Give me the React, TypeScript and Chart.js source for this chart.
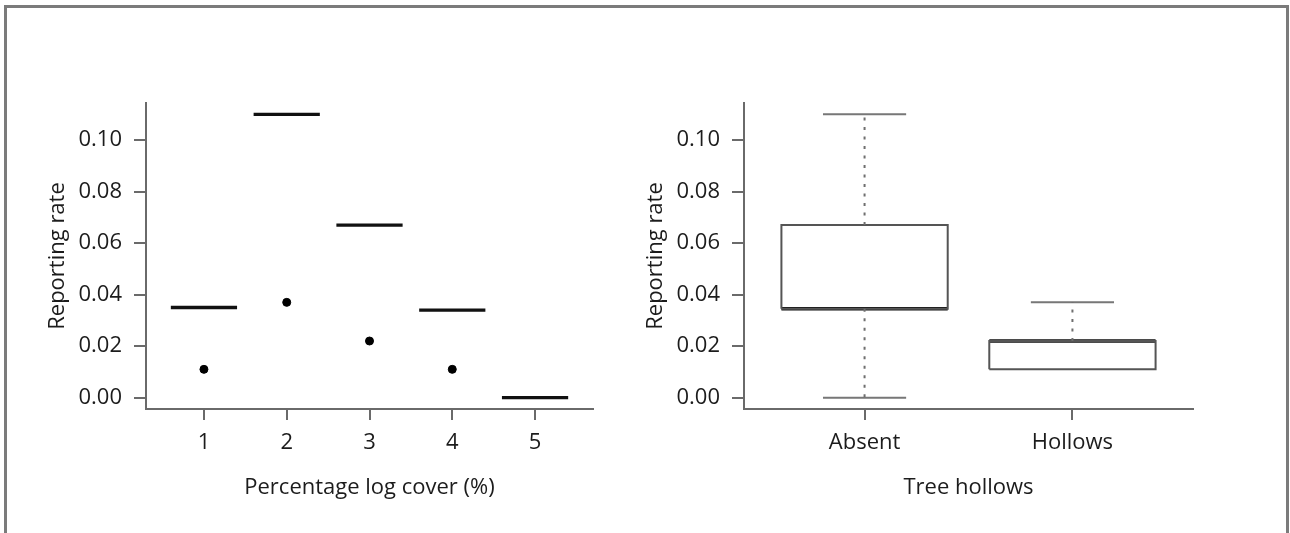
import React, { useEffect, useRef } from 'react';
import { Chart, registerables } from 'chart.js';

Chart.register(...registerables);

// ---- Data ----
const coverCategories = ['1', '2', '3', '4', '5'];
const coverMedians = [0.035, 0.11, 0.067, 0.034, 0.0];
const coverOutliers: (number | null)[] = [0.011, 0.037, 0.022, 0.011, null];

const hollowCategories = ['Absent', 'Hollows'];
const hollowMin = [0.0, 0.011];
const hollowQ1 = [0.0345, 0.011];
const hollowMedian = [0.0345, 0.022];
const hollowQ3 = [0.067, 0.022];
const hollowMax = [0.11, 0.037];

const yTicks = [0, 0.02, 0.04, 0.06, 0.08, 0.1];
const yTitle = 'Reporting rate';
const coverTitle = 'Percentage log cover (%)';
const hollowTitle = 'Tree hollows';

// ---- Style constants ----
const FONT = '"Open Sans", "DejaVu Sans", sans-serif';
const FS = 22;
const TEXT = '#1c1c1c';
const AXIS = '#6a6a6a';
const BOXW = 0.8; // box width in category units
const CAPW = 0.4; // staple width in category units
const Y_MIN = -0.0044;
const Y_MAX = 0.1144;

type P = { x: number; y: number | null };

function segs(pairs: [number, number, number, number][]): P[] {
  const out: P[] = [];
  pairs.forEach(([x1, y1, x2, y2]) => {
    out.push({ x: x1, y: y1 }, { x: x2, y: y2 }, { x: x2, y: null });
  });
  return out;
}

function baseOptions(nCat: number, labels: string[], xTitle: string, padRight: number) {
  const ext = nCat * 0.04;
  return {
    animation: false as const,
    responsive: false,
    maintainAspectRatio: false,
    events: [],
    layout: { padding: { left: 0, right: padRight, top: 103, bottom: 0 } },
    plugins: { legend: { display: false }, tooltip: { enabled: false } },
    scales: {
      x: {
        type: 'linear' as const,
        min: 0.5 - ext,
        max: nCat + 0.5 + ext,
        afterBuildTicks: (s: any) => {
          s.ticks = labels.map((_, i) => ({ value: i + 1 }));
        },
        afterFit: (s: any) => {
          s.height = 124;
        },
        ticks: {
          autoSkip: false,
          maxRotation: 0,
          padding: 10,
          color: TEXT,
          font: { family: FONT, size: FS },
          callback: (v: any) => labels[Math.round(Number(v)) - 1] ?? '',
        },
        grid: { drawOnChartArea: false, drawTicks: true, tickLength: 11, color: AXIS, lineWidth: 2 },
        border: { display: true, color: AXIS, width: 2 },
        title: {
          display: true,
          text: xTitle,
          color: TEXT,
          font: { family: FONT, size: FS },
          padding: { top: 0, bottom: 32 },
        },
      },
      y: {
        type: 'linear' as const,
        min: Y_MIN,
        max: Y_MAX,
        afterBuildTicks: (s: any) => {
          s.ticks = yTicks.map((v) => ({ value: v }));
        },
        afterFit: (s: any) => {
          s.width = 146;
        },
        ticks: {
          padding: 12,
          color: TEXT,
          font: { family: FONT, size: FS },
          callback: (v: any) => Number(v).toFixed(2),
        },
        grid: { drawOnChartArea: false, drawTicks: true, tickLength: 12, color: AXIS, lineWidth: 2 },
        border: { display: true, color: AXIS, width: 2 },
        title: {
          display: true,
          text: yTitle,
          color: TEXT,
          font: { family: FONT, size: FS },
          padding: { top: 45, bottom: 0 },
        },
      },
    },
  };
}

function CoverChart() {
  const ref = useRef<HTMLCanvasElement>(null);
  useEffect(() => {
    if (!ref.current) return;
    const medianPts = segs(
      coverMedians.map((m, i) => [i + 1 - BOXW / 2, m, i + 1 + BOXW / 2, m] as [number, number, number, number])
    );
    const outlierPts = coverOutliers
      .map((o, i) => (o === null ? null : { x: i + 1, y: o }))
      .filter((p) => p !== null) as P[];
    const chart = new Chart(ref.current, {
      type: 'line',
      data: {
        datasets: [
          {
            label: 'Median',
            data: medianPts as any,
            borderColor: '#111111',
            borderWidth: 3.4,
            pointRadius: 0,
            spanGaps: false,
            borderCapStyle: 'butt',
          },
          {
            type: 'scatter',
            label: 'Outliers',
            data: outlierPts as any,
            backgroundColor: '#000000',
            borderColor: '#000000',
            pointRadius: 4,
            showLine: false,
          } as any,
        ],
      },
      options: baseOptions(coverCategories.length, coverCategories, coverTitle, 4) as any,
    });
    return () => chart.destroy();
  }, []);
  return (
    <canvas
      ref={ref}
      width={598}
      height={533}
      style={{ position: 'absolute', left: 0, top: 0, width: 598, height: 533 }}
    />
  );
}

function HollowChart() {
  const ref = useRef<HTMLCanvasElement>(null);
  useEffect(() => {
    if (!ref.current) return;
    const boxPts: P[] = [];
    hollowCategories.forEach((_, i) => {
      const c = i + 1;
      const l = c - BOXW / 2;
      const r = c + BOXW / 2;
      boxPts.push(
        { x: l, y: hollowQ1[i] },
        { x: r, y: hollowQ1[i] },
        { x: r, y: hollowQ3[i] },
        { x: l, y: hollowQ3[i] },
        { x: l, y: hollowQ1[i] },
        { x: l, y: null }
      );
    });
    const whiskerPts = segs(
      hollowCategories.flatMap((_, i) => {
        const c = i + 1;
        const s: [number, number, number, number][] = [];
        if (hollowMax[i] > hollowQ3[i]) s.push([c, hollowQ3[i], c, hollowMax[i]]);
        if (hollowMin[i] < hollowQ1[i]) s.push([c, hollowQ1[i], c, hollowMin[i]]);
        return s;
      })
    );
    const capPts = segs(
      hollowCategories.flatMap((_, i) => {
        const c = i + 1;
        const s: [number, number, number, number][] = [];
        s.push([c - CAPW / 2, hollowMax[i], c + CAPW / 2, hollowMax[i]]);
        if (hollowMin[i] < hollowQ1[i]) s.push([c - CAPW / 2, hollowMin[i], c + CAPW / 2, hollowMin[i]]);
        return s;
      })
    );
    const medianPts = segs(
      hollowMedian.map((m, i) => [i + 1 - BOXW / 2, m, i + 1 + BOXW / 2, m] as [number, number, number, number])
    );
    const chart = new Chart(ref.current, {
      type: 'line',
      data: {
        datasets: [
          {
            label: 'Whiskers',
            data: whiskerPts as any,
            borderColor: '#6f6f6f',
            borderWidth: 2,
            borderDash: [3, 6.5],
            pointRadius: 0,
            spanGaps: false,
          },
          {
            label: 'Caps',
            data: capPts as any,
            borderColor: '#777777',
            borderWidth: 2,
            pointRadius: 0,
            spanGaps: false,
          },
          {
            label: 'Box',
            data: boxPts as any,
            borderColor: '#555555',
            borderWidth: 2,
            pointRadius: 0,
            spanGaps: false,
            borderJoinStyle: 'miter',
          },
          {
            label: 'Median',
            data: medianPts as any,
            borderColor: '#111111',
            borderWidth: 3.4,
            pointRadius: 0,
            spanGaps: false,
          },
        ],
      },
      options: baseOptions(hollowCategories.length, hollowCategories, hollowTitle, 97) as any,
    });
    return () => chart.destroy();
  }, []);
  return (
    <canvas
      ref={ref}
      width={692}
      height={533}
      style={{ position: 'absolute', left: 598, top: 0, width: 692, height: 533 }}
    />
  );
}

export default function App() {
  return (
    <div
      style={{
        position: 'fixed',
        left: 0,
        top: 0,
        width: 1290,
        height: 533,
        background: '#ffffff',
        overflow: 'hidden',
      }}
    >
      <div
        style={{
          position: 'absolute',
          left: 4,
          top: 5,
          width: 1279,
          height: 600,
          borderTop: '3px solid #7b7b7b',
          borderLeft: '3px solid #7b7b7b',
          borderRight: '3px solid #7b7b7b',
          boxSizing: 'content-box',
        }}
      />
      <CoverChart />
      <HollowChart />
    </div>
  );
}
